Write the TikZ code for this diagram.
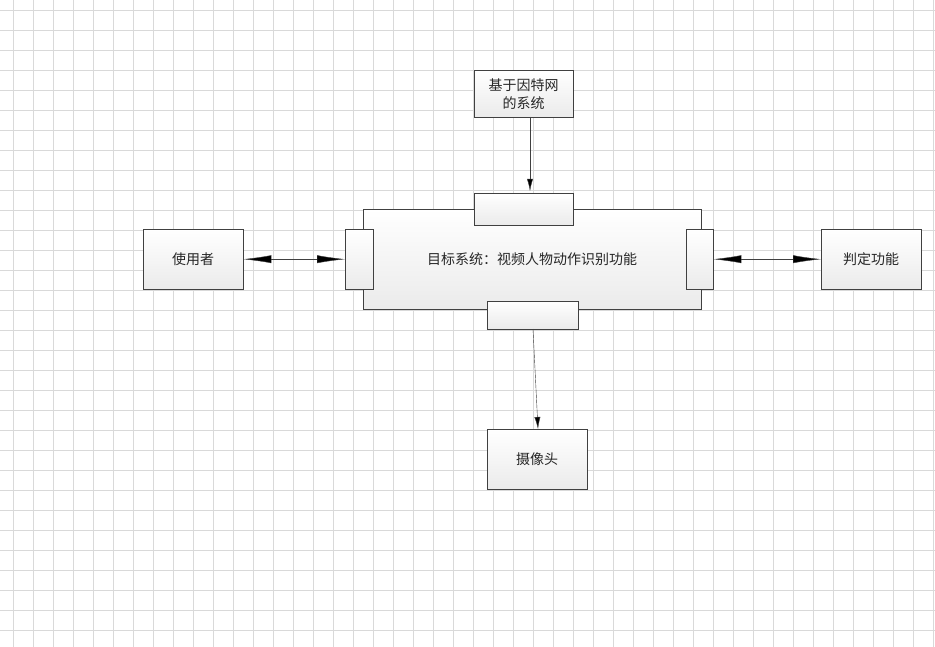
\documentclass[tikz,border=0pt]{standalone}
\usepackage{fontspec}
\newfontfamily\cjk{Noto Sans CJK SC}
\usetikzlibrary{arrows.meta}

\tikzset{
  blk/.style = {draw = black!75, fill = white, inner sep = 0pt, anchor = north west,
    top color = white, bottom color = black!8},
  lbl/.style = {font = \cjk\fontsize{14}{18}\selectfont, text = black!85, align = center},
  conn/.style = {black!75, -{Latex[length = 12pt, width = 6pt, fill = black]}},
  dconn/.style = {black!75, {Latex[length = 28pt, width = 8pt, fill = black]}-{Latex[length = 28pt, width = 8pt, fill = black]}},
}

\begin{document}
\begin{tikzpicture} [x = 1pt, y = -1pt]
\useasboundingbox (0, 0) rectangle (935, 647);
\fill[white] (0, 0) rectangle (935, 647);
\foreach \gx in {13, 33, ..., 935} \draw[black!15, line width = 0.5pt] (\gx, 0) -- (\gx, 647);
\foreach \gy in {10, 30, ..., 647} \draw[black!15, line width = 0.5pt] (0, \gy) -- (935, \gy);

\node[blk, minimum width = 338pt, minimum height = 100pt] (sys) at (363, 209) {};
\node[lbl] at (532, 259) {目标系统：视频人物动作识别功能};
\node[blk, minimum width = 99pt, minimum height = 32pt] (ptop) at (474, 193) {};
\node[blk, minimum width = 28pt, minimum height = 60pt] (pleft) at (345, 229) {};
\node[blk, minimum width = 27pt, minimum height = 60pt] (pright) at (686, 229) {};
\node[blk, minimum width = 91pt, minimum height = 28pt] (pbot) at (487, 301) {};

\node[blk, minimum width = 99pt, minimum height = 47pt] (net) at (474, 70) {};
\node[lbl] at (net.center) {基于因特网\\的系统};
\node[blk, minimum width = 100pt, minimum height = 60pt] (user) at (143, 229) {};
\node[lbl] at (user.center) {使用者};
\node[blk, minimum width = 100pt, minimum height = 60pt] (judge) at (821, 229) {};
\node[lbl] at (judge.center) {判定功能};
\node[blk, minimum width = 100pt, minimum height = 60pt] (cam) at (487, 429) {};
\node[lbl] at (cam.center) {摄像头};

\coordinate (nb) at (530, 117);
\coordinate (nt) at (530, 191);
\coordinate (cb) at (533, 329);
\coordinate (ct) at (538, 429);
\draw[conn] (nb) -- (nt);
\draw[conn] (cb) -- (ct);
\draw[dconn] (user.east) -- (pleft.west);
\draw[dconn] (pright.east) -- (judge.west);
\end{tikzpicture}
\end{document}
